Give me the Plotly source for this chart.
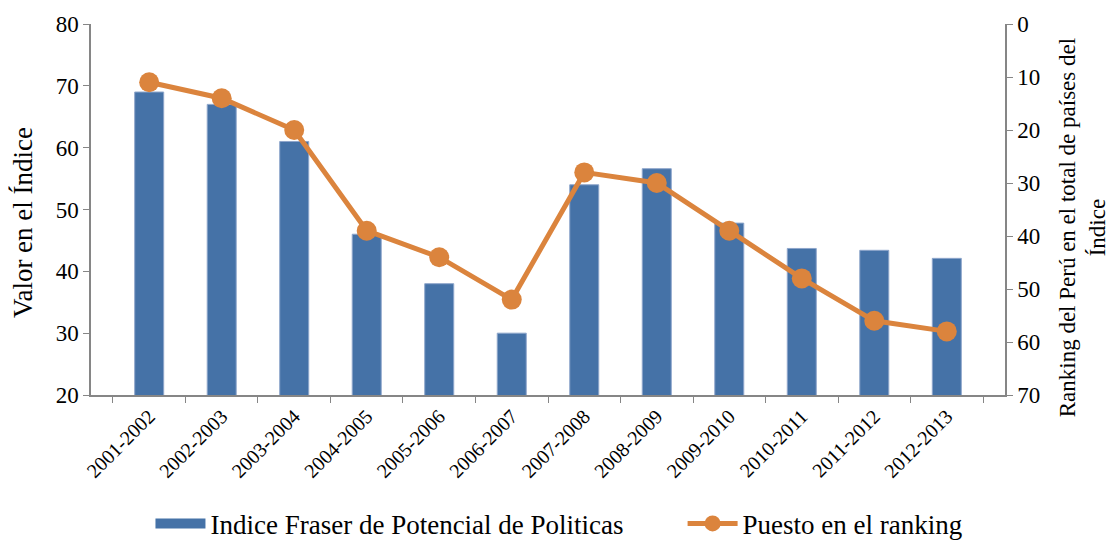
import plotly.graph_objects as go

categories = ["2001-2002", "2002-2003", "2003-2004", "2004-2005", "2005-2006", "2006-2007",
              "2007-2008", "2008-2009", "2009-2010", "2010-2011", "2011-2012", "2012-2013"]
indice_values = [69, 67, 61, 46, 38, 30, 54, 56.6, 47.8, 43.7, 43.4, 42.1]
ranking_values = [11, 14, 20, 39, 44, 52, 28, 30, 39, 48, 56, 58]
bar_name = "Indice Fraser de Potencial de Politicas"
line_name = "Puesto en el ranking"
left_title = "Valor en el Índice"
right_title = "Ranking del Perú en el total de países del<br>Índice"

BLUE = "#4572A7"
ORANGE = "#DB843D"
FONT = "Liberation Serif"
AXIS = "#868686"
PAD = "\u00a0" * 8

fig = go.Figure()
fig.add_trace(go.Bar(
    x=categories, y=indice_values, name=bar_name, showlegend=False, legendgroup="bar",
    marker=dict(color=BLUE, line=dict(color="#8EA6CB", width=1)),
))
# legend-only entry giving the wide blue swatch
fig.add_trace(go.Scatter(
    x=[None], y=[None], name=bar_name + PAD, legendgroup="bar", mode="lines",
    line=dict(color=BLUE, width=14),
))
fig.add_trace(go.Scatter(
    x=categories, y=ranking_values, name=line_name, yaxis="y2",
    mode="lines+markers",
    line=dict(color=ORANGE, width=5),
    marker=dict(color=ORANGE, size=20),
))

fig.update_layout(
    width=1106, height=534,
    margin=dict(l=83, r=109, t=16, b=147),
    paper_bgcolor="white", plot_bgcolor="white",
    font=dict(family=FONT, size=20, color="black"),
    bargap=0.6,
    showlegend=True,
    legend=dict(orientation="h", x=0.512, xanchor="center", yref="container", y=0.034,
                yanchor="middle",
                font=dict(family=FONT, size=27), itemwidth=50, tracegroupgap=0),
    xaxis=dict(
        type="category", tickangle=-45, tickson="boundaries", automargin=False,
        ticks="outside", ticklen=6, tickcolor=AXIS,
        showline=True, linecolor=AXIS, linewidth=1.5,
        showgrid=False, tickfont=dict(family=FONT, size=20),
    ),
    yaxis=dict(
        range=[20, 80], dtick=10, ticks="outside", ticklen=6, tickcolor=AXIS,
        showline=True, linecolor=AXIS, linewidth=1.5, showgrid=False, zeroline=False,
        automargin=False, tickfont=dict(family=FONT, size=23),
    ),
    yaxis2=dict(
        overlaying="y", side="right", range=[70, 0], dtick=10,
        ticks="outside", ticklen=6, tickcolor=AXIS, automargin=False,
        showline=True, linecolor=AXIS, linewidth=1.5, showgrid=False, zeroline=False,
        tickfont=dict(family=FONT, size=23),
    ),
    annotations=[
        dict(text=left_title, xref="paper", yref="paper", x=-0.0744, y=0.466,
             xanchor="center", yanchor="middle", textangle=-90, showarrow=False,
             font=dict(family=FONT, size=27)),
        dict(text=right_title, xref="paper", yref="paper", x=1.0845, y=0.45,
             xanchor="center", yanchor="middle", textangle=-90, showarrow=False,
             font=dict(family=FONT, size=23)),
    ],
)

fig.write_html("out.html")
